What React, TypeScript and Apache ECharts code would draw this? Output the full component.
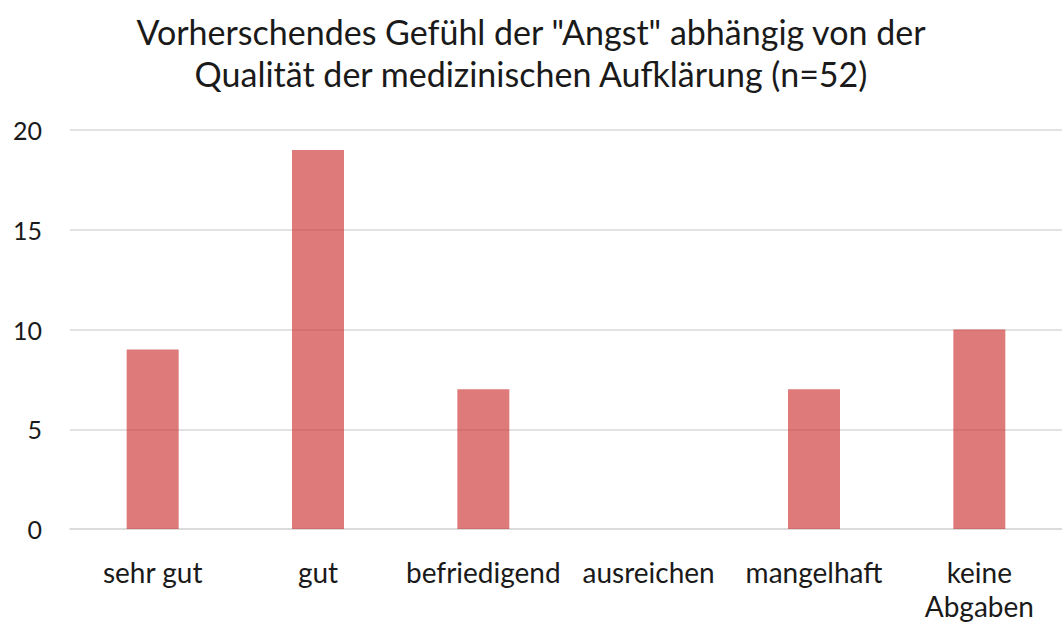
import React, { useEffect, useRef } from "react";
import * as echarts from "echarts";

const titleLines = ['Vorherschendes Gefühl der "Angst" abhängig von der', "Qualität der medizinischen Aufklärung (n=52)"];
const categories = ["sehr gut", "gut", "befriedigend", "ausreichen", "mangelhaft", "keine\nAbgaben"];
const values = [9, 19, 7, 0, 7, 10];
const yMin = 0;
const yMax = 20;
const yStep = 5;

const FONT = "Lato, 'Open Sans', sans-serif";

export default function App() {
  const ref = useRef<HTMLDivElement>(null);
  useEffect(() => {
    if (!ref.current) return;
    const chart = echarts.init(ref.current, undefined, { renderer: "svg" });
    chart.setOption({
      animation: false,
      backgroundColor: "#ffffff",
      title: {
        text: titleLines.join("\n"),
        left: "center",
        top: 5,
        itemGap: 0,
        textStyle: {
          fontFamily: FONT,
          fontSize: 34,
          fontWeight: "normal",
          color: "#1a1a1a",
          lineHeight: 42,
        },
      },
      grid: { left: 70, right: -8, top: 130, bottom: 93, containLabel: false },
      xAxis: {
        type: "category",
        data: categories,
        axisLine: { show: true, lineStyle: { color: "#d9d9d9", width: 1.5 } },
        axisTick: { show: false },
        axisLabel: {
          interval: 0,
          margin: 26,
          fontFamily: FONT,
          fontSize: 28,
          color: "#1a1a1a",
          lineHeight: 34,
        },
      },
      yAxis: {
        type: "value",
        min: yMin,
        max: yMax,
        interval: yStep,
        axisLine: { show: false },
        axisTick: { show: false },
        splitLine: { lineStyle: { color: "#d9d9d9", width: 1.5 } },
        axisLabel: {
          margin: 28,
          fontFamily: FONT,
          fontSize: 25,
          color: "#1a1a1a",
        },
      },
      series: [
        {
          type: "bar",
          data: values,
          barWidth: 52,
          itemStyle: { color: "rgba(205,50,50,0.65)" },
        },
      ],
    });
    return () => chart.dispose();
  }, []);
  return (
    <div
      ref={ref}
      style={{ position: "absolute", left: 0, top: 0, width: 1062, height: 623 }}
    />
  );
}
